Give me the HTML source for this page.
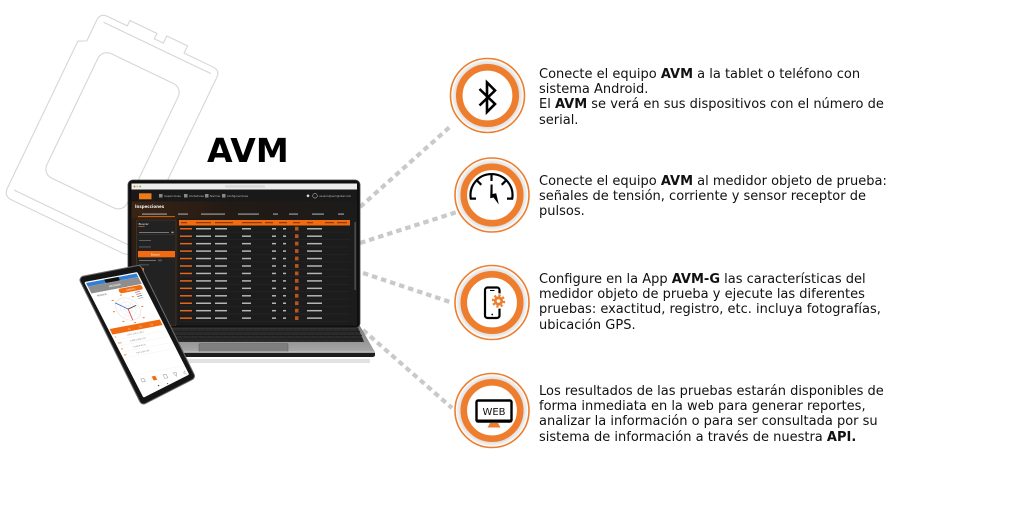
<!DOCTYPE html>
<html>
<head>
<meta charset="utf-8">
<style>
  html,body{margin:0;padding:0;background:#fff;}
  body{width:1024px;height:529px;overflow:hidden;position:relative;}
  svg{position:absolute;left:0;top:0;}
  .p{position:absolute;left:539px;font-family:"DejaVu Sans","Liberation Sans",sans-serif;font-size:13px;line-height:15.4px;color:#111;white-space:nowrap;}
  .p b{font-weight:bold;}
  .avm{position:absolute;left:207px;top:131px;font-family:"DejaVu Sans","Liberation Sans",sans-serif;font-weight:bold;font-size:33px;line-height:40px;color:#000;}
</style>
</head>
<body>
<svg width="1024" height="529" viewBox="0 0 1024 529" xmlns="http://www.w3.org/2000/svg">
  <defs>
    <radialGradient id="halo" cx="0.5" cy="0.5" r="0.5">
      <stop offset="0.80" stop-color="#cfcfcf"/>
      <stop offset="0.92" stop-color="#e6e6e6"/>
      <stop offset="1" stop-color="#f7f7f7"/>
    </radialGradient>
    <linearGradient id="sub" x1="0" y1="0" x2="1" y2="0">
      <stop offset="0" stop-color="#3a2414"/>
      <stop offset="0.45" stop-color="#221a15"/>
      <stop offset="1" stop-color="#1b1b1b"/>
    </linearGradient>
    <linearGradient id="side" x1="0" y1="0" x2="0" y2="1">
      <stop offset="0" stop-color="#2d1e14"/>
      <stop offset="1" stop-color="#1d1d1d"/>
    </linearGradient>
    <linearGradient id="base" x1="0" y1="0" x2="0" y2="1">
      <stop offset="0" stop-color="#7c7c7c"/>
      <stop offset="1" stop-color="#a8a8a8"/>
    </linearGradient>
    <g id="row">
      <rect x="180" y="0" width="12" height="1.5" fill="#e8661c"/>
      <rect x="196" y="0" width="15" height="1.5" fill="#b5b5b5"/>
      <rect x="215" y="0" width="12" height="1.5" fill="#b5b5b5"/>
      <rect x="242" y="0" width="9" height="1.5" fill="#b5b5b5"/>
      <rect x="272" y="0" width="4" height="1.5" fill="#b5b5b5"/>
      <rect x="283" y="0" width="3" height="1.5" fill="#b5b5b5"/>
      <rect x="295" y="-1.2" width="3.5" height="3.8" fill="#b8561a"/>
      <rect x="307" y="0" width="15" height="1.5" fill="#b5b5b5"/>
      <rect x="179" y="3.8" width="171" height="0.5" fill="#2a2a2a"/>
    </g>
    <clipPath id="ps">
      <polygon points="86,283 136.5,273.5 187.5,374 144,396"/>
    </clipPath>
  </defs>

  <!-- background device outline -->
  <g transform="translate(112.5,130.8) rotate(25.6)" fill="none" stroke="#d6d6d6" stroke-width="1.1">
    <path d="M -62,-93 Q -62,-101 -54,-101 L -32,-101 L -32,-107 L -2,-107 L -2,-101 L 8,-101 L 8,-109 L 31,-109 L 31,-101 L 63,-101 Q 71,-101 71,-93 L 71,97 Q 71,106 62,106 L -61,106 Q -70,106 -70,97 L -70,-66 L -62,-70 Z"/>
    <path d="M -55,-94 L 64,-94"/>
    <path d="M -63,96 L 63,96"/>
    <rect x="-44.5" y="-69" width="89" height="138" rx="10"/>
  </g>

  <!-- dashed connectors -->
  <g stroke="#c9c9c9" stroke-width="4.2" stroke-dasharray="5.5 4" fill="none">
    <line x1="360" y1="207" x2="452" y2="125"/>
    <line x1="360" y1="243" x2="457" y2="212"/>
    <line x1="363" y1="273" x2="453" y2="303"/>
    <line x1="363" y1="330" x2="452" y2="408"/>
  </g>

  <!-- laptop base -->
  <rect x="183" y="359" width="187" height="4" fill="#e2e2e2"/>
  <polygon points="163,326 360,326 375,352 150,352" fill="url(#base)"/>
  <polygon points="170,327.5 358,327.5 364,342 167,342" fill="#2b2b2b"/>
  <g stroke="#1a1a1a" stroke-width="0.8">
    <line x1="169" y1="331.5" x2="360" y2="331.5"/>
    <line x1="168" y1="335.5" x2="362" y2="335.5"/>
    <line x1="168" y1="339" x2="363" y2="339"/>
  </g>
  <g stroke="#1a1a1a" stroke-width="0.8" stroke-dasharray="1 7">
    <line x1="172" y1="329.5" x2="358" y2="329.5"/>
    <line x1="170" y1="333.5" x2="360" y2="333.5"/>
    <line x1="174" y1="337.3" x2="361" y2="337.3"/>
    <line x1="170" y1="340.5" x2="362" y2="340.5"/>
  </g>
  <rect x="199" y="343.5" width="89" height="8.3" rx="1.2" fill="#7e7e7e" stroke="#666" stroke-width="0.6"/>
  <rect x="150" y="351.5" width="225" height="1.2" fill="#c8c8c8"/>
  <path d="M 152,352.7 L 375,352.7 L 375,355 Q 375,357 372,357 L 155,357 Z" fill="#1e1e1e"/>

  <!-- laptop lid -->
  <rect x="128" y="180" width="232" height="148" rx="5" fill="#0f0f0f" stroke="#454545" stroke-width="0.8"/>
  <rect x="131.5" y="183.5" width="225.5" height="142" fill="#1c1c1c"/>
  <!-- browser bar -->
  <rect x="131.5" y="183.5" width="225.5" height="6" fill="#ececec"/>
  <circle cx="134.5" cy="186.5" r="0.9" fill="#e24b3b"/>
  <circle cx="137.3" cy="186.5" r="0.9" fill="#e8b82f"/>
  <circle cx="140.1" cy="186.5" r="0.9" fill="#4cb944"/>
  <rect x="225" y="185.3" width="40" height="2.4" rx="1" fill="#d8d8d8"/>
  <!-- app nav -->
  <rect x="131.5" y="189.5" width="225.5" height="12" fill="#191919"/>
  <rect x="139" y="193.3" width="12.5" height="6" fill="#ef7a1a"/>
  <g fill="#bdbdbd" font-family="DejaVu Sans, sans-serif" font-size="2.6">
    <rect x="159" y="194" width="3.5" height="3.5" fill="#888"/>
    <text x="164" y="197">Inspecciones</text>
    <rect x="184" y="194" width="3.5" height="3.5" fill="#888"/>
    <text x="189" y="197">Contadores</text>
    <rect x="205" y="194" width="3.5" height="3.5" fill="#888"/>
    <text x="210" y="197">Normas</text>
    <rect x="222" y="194" width="3.5" height="3.5" fill="#888"/>
    <text x="227" y="197">Configuraciones</text>
    <circle cx="308" cy="195.8" r="1.3" fill="#ddd"/>
    <circle cx="315" cy="195.8" r="2.3" fill="none" stroke="#ddd" stroke-width="0.5"/>
    <text x="319" y="197">usuario@avmglobal.com</text>
  </g>
  <!-- sub header -->
  <rect x="131.5" y="201.5" width="225.5" height="17" fill="url(#sub)"/>
  <text x="135" y="208" font-family="DejaVu Sans, sans-serif" font-size="4" font-weight="bold" fill="#f0f0f0">Inspecciones</text>
  <g fill="#9a9a9a">
    <rect x="142" y="213.5" width="25" height="1.2"/>
    <rect x="178" y="213.5" width="10" height="1.2"/>
    <rect x="201" y="213.5" width="24" height="1.2"/>
    <rect x="238" y="213.5" width="21" height="1.2"/>
    <rect x="273" y="213.5" width="5" height="1.2"/>
    <rect x="289" y="213.5" width="9" height="1.2"/>
    <rect x="312" y="213.5" width="12" height="1.2"/>
    <rect x="338" y="213.5" width="6" height="1.2"/>
  </g>
  <rect x="138" y="216.3" width="37" height="0.8" fill="#ef7a1a"/>
  <!-- sidebar -->
  <rect x="131.5" y="218.5" width="46" height="107" fill="url(#side)"/>
  <rect x="136.5" y="220" width="39.5" height="105.5" rx="1" fill="#222" stroke="#5e3a1e" stroke-width="0.6"/>
  <text x="138.5" y="225.2" font-family="DejaVu Sans, sans-serif" font-size="3" fill="#eee">Buscar</text>
  <rect x="138.5" y="226.4" width="6" height="0.6" fill="#ef7a1a"/>
  <rect x="139" y="232" width="30" height="1" fill="#777"/>
  <rect x="171.5" y="231.7" width="2" height="1.4" fill="#aaa"/>
  <rect x="138.5" y="234.3" width="36" height="0.4" fill="#444"/>
  <rect x="139" y="240" width="12" height="0.9" fill="#666"/>
  <rect x="139" y="246.5" width="12" height="0.9" fill="#666"/>
  <rect x="138" y="251" width="37" height="6.3" fill="#f26b10"/>
  <text x="151" y="255.4" font-family="DejaVu Sans, sans-serif" font-size="2.6" fill="#fff">Buscar</text>
  <rect x="139" y="260" width="17" height="0.9" fill="#777"/>
  <rect x="158" y="259.6" width="4" height="1.6" fill="#555"/>
  <rect x="139" y="264.5" width="10" height="0.8" fill="#666"/>
  <rect x="139" y="268" width="5" height="5" fill="#f26b10"/>
  <!-- table -->
  <rect x="179" y="220" width="171" height="5.5" fill="#f26b10"/>
  <g fill="#6a2a05">
    <rect x="181" y="222.3" width="6" height="0.9"/>
    <rect x="196" y="222.3" width="15" height="0.9"/>
    <rect x="215" y="222.3" width="18" height="0.9"/>
    <rect x="242" y="222.3" width="20" height="0.9"/>
    <rect x="265" y="222.3" width="8" height="0.9"/>
    <rect x="279" y="222.3" width="8" height="0.9"/>
    <rect x="293" y="222.3" width="7" height="0.9"/>
    <rect x="307" y="222.3" width="6" height="0.9"/>
    <rect x="325" y="222.3" width="9" height="0.9"/>
    <rect x="337" y="222.3" width="10" height="0.9"/>
  </g>
  <use href="#row" y="228"/>
  <use href="#row" y="235.45"/>
  <use href="#row" y="242.9"/>
  <use href="#row" y="250.35"/>
  <use href="#row" y="257.8"/>
  <use href="#row" y="265.25"/>
  <use href="#row" y="272.7"/>
  <use href="#row" y="280.15"/>
  <use href="#row" y="287.6"/>
  <use href="#row" y="295.05"/>
  <use href="#row" y="302.5"/>
  <use href="#row" y="309.95"/>
  <use href="#row" y="317.4"/>
  <rect x="354.5" y="222" width="1.3" height="68" fill="#555"/>

  <!-- phone -->
  <polygon points="84,280 138,269.5 190.5,376 143.5,400" fill="#151515" stroke="#6e6e6e" stroke-width="9" stroke-linejoin="round"/>
  <polygon points="84,280 138,269.5 190.5,376 143.5,400" fill="#151515" stroke="#151515" stroke-width="7" stroke-linejoin="round"/>
  <polygon points="86,283 136.5,273.5 187.5,374 144,396" fill="#fff" stroke="#fff" stroke-width="2.5" stroke-linejoin="round"/>
  <g clip-path="url(#ps)">
    <g transform="matrix(1.01,-0.19,0.513,1,86,283)" font-family="DejaVu Sans, sans-serif">
      <rect x="-5" y="-3" width="60" height="6.5" fill="#2f7fd6"/>
      <rect x="18" y="-3" width="14" height="6.5" rx="1.5" fill="#111"/>
      <rect x="-5" y="3.5" width="60" height="7" fill="#8e8e8e"/>
      <text x="25" y="8" font-size="2.4" fill="#fff" text-anchor="middle">MEDIDOR</text>
      <rect x="-5" y="10.5" width="60" height="5.5" fill="#fff"/>
      <text x="4" y="14.3" font-size="2" fill="#555">MEDIDOR</text>
      <rect x="26" y="11" width="23" height="4.5" rx="2" fill="#f26b10"/>
      <text x="37.5" y="14.2" font-size="2" fill="#fff" text-anchor="middle">GRÁFICO</text>
      <!-- chart -->
      <circle cx="26" cy="31" r="11" fill="none" stroke="#ddd" stroke-width="0.5"/>
      <circle cx="26" cy="31" r="7" fill="none" stroke="#e4e4e4" stroke-width="0.4"/>
      <circle cx="26" cy="31" r="3.5" fill="none" stroke="#e4e4e4" stroke-width="0.4"/>
      <g stroke="#e2e2e2" stroke-width="0.3">
        <line x1="15" y1="31" x2="37" y2="31"/>
        <line x1="26" y1="20" x2="26" y2="42"/>
        <line x1="18" y1="23" x2="34" y2="39"/>
        <line x1="34" y1="23" x2="18" y2="39"/>
      </g>
      <line x1="26" y1="31" x2="17" y2="23" stroke="#2b4fc9" stroke-width="0.7"/>
      <line x1="26" y1="31" x2="25" y2="42" stroke="#d42a2a" stroke-width="0.7"/>
      <line x1="26" y1="31" x2="35" y2="29" stroke="#333" stroke-width="0.7"/>
      <g fill="#f08a3a">
        <rect x="25" y="16.5" width="2" height="1"/>
        <rect x="15" y="20" width="2" height="1"/>
        <rect x="35" y="20" width="2" height="1"/>
        <rect x="11" y="30.5" width="2" height="1"/>
        <rect x="39" y="30.5" width="2" height="1"/>
        <rect x="15" y="41" width="2" height="1"/>
        <rect x="35" y="41" width="2" height="1"/>
        <rect x="25" y="44" width="2" height="1"/>
      </g>
      <g stroke-width="0.5">
        <line x1="40" y1="17" x2="45" y2="17" stroke="#2b4fc9"/>
        <line x1="40" y1="19" x2="45" y2="19" stroke="#d42a2a"/>
        <line x1="40" y1="21" x2="45" y2="21" stroke="#333"/>
        <line x1="40" y1="23" x2="45" y2="23" stroke="#888"/>
      </g>
      <!-- orange band -->
      <rect x="-5" y="46" width="60" height="5.5" fill="#f26b10"/>
      <text x="17" y="49.8" font-size="1.9" fill="#fff">L1</text>
      <text x="28" y="49.8" font-size="1.9" fill="#fff">L2</text>
      <text x="39" y="49.8" font-size="1.9" fill="#fff">L3</text>
      <g font-size="1.8">
        <text x="1" y="55" fill="#f26b10" font-weight="bold">V</text>
        <text x="13" y="55" fill="#777">130.2  130.1  130.3</text>
        <text x="1" y="61" fill="#f26b10" font-weight="bold">I(A)</text>
        <text x="13" y="61" fill="#777">5.000  5.000  5.01</text>
        <text x="1" y="67" fill="#f26b10" font-weight="bold">W</text>
        <text x="13" y="67" fill="#777">0  240.9  40.75</text>
        <text x="1" y="73" fill="#f26b10" font-weight="bold">FP</text>
        <text x="13" y="73" fill="#777">4.01  2.80  2.97</text>
      </g>
      <g stroke="#eee" stroke-width="0.3">
        <line x1="0" y1="57" x2="50" y2="57"/>
        <line x1="0" y1="63" x2="50" y2="63"/>
        <line x1="0" y1="69" x2="50" y2="69"/>
        <line x1="0" y1="75" x2="50" y2="75"/>
      </g>
      <rect x="-5" y="92" width="60" height="0.3" fill="#eee"/>
      <g fill="none" stroke="#999" stroke-width="0.5">
        <rect x="5" y="97" width="3" height="3"/>
        <rect x="27" y="97" width="3" height="3.5"/>
        <path d="M37,97 L40,97 L38.5,100.5 Z"/>
        <path d="M49,97 L46.5,98.8 L49,100.6"/>
      </g>
      <rect x="16" y="96.5" width="3.5" height="4" fill="#f26b10"/>
      <g fill="#555">
        <circle cx="18" cy="106" r="0.7"/>
        <circle cx="27" cy="106" r="0.7"/>
        <circle cx="36" cy="106" r="0.7"/>
      </g>
    </g>
  </g>

  <!-- icon circles -->
  <g>
    <circle cx="487.5" cy="95.5" r="37" fill="#fff" stroke="#ee7d2e" stroke-width="1.6"/>
    <circle cx="487.5" cy="95.5" r="35.5" fill="url(#halo)"/>
    <circle cx="487.5" cy="95.5" r="28.2" fill="#fff" stroke="#ee7d2e" stroke-width="6.6"/>

    <circle cx="492" cy="195" r="37" fill="#fff" stroke="#ee7d2e" stroke-width="1.6"/>
    <circle cx="492" cy="195" r="35.5" fill="url(#halo)"/>
    <circle cx="492" cy="195" r="28.2" fill="#fff" stroke="#ee7d2e" stroke-width="6.6"/>

    <circle cx="492" cy="302.5" r="37" fill="#fff" stroke="#ee7d2e" stroke-width="1.6"/>
    <circle cx="492" cy="302.5" r="35.5" fill="url(#halo)"/>
    <circle cx="492" cy="302.5" r="28.2" fill="#fff" stroke="#ee7d2e" stroke-width="6.6"/>

    <circle cx="492" cy="410.5" r="37" fill="#fff" stroke="#ee7d2e" stroke-width="1.6"/>
    <circle cx="492" cy="410.5" r="35.5" fill="url(#halo)"/>
    <circle cx="492" cy="410.5" r="28.2" fill="#fff" stroke="#ee7d2e" stroke-width="6.6"/>
  </g>

  <!-- bluetooth -->
  <path d="M 479.5,89 L 495,104 L 487,112 L 487,82.5 L 495,90.5 L 479.5,105.5" fill="none" stroke="#000" stroke-width="2.6" stroke-linejoin="miter"/>

  <!-- gauge -->
  <g fill="none" stroke="#000" stroke-width="2.2">
    <path d="M 476,198.6 L 470.8,198.6 A 21 21 0 1 1 512.2,198.6 L 507,198.6"/>
    <line x1="491.5" y1="174" x2="491.5" y2="181"/>
    <line x1="476.7" y1="180.2" x2="481.3" y2="184.8"/>
    <line x1="506.3" y1="180.2" x2="501.7" y2="184.8"/>
  </g>
  <polygon points="490.6,184.5 492.6,184.5 492.6,194 496.2,193.2 498.8,204.5 493.5,197.5 490.2,198.2" fill="#000"/>

  <!-- phone + gear -->
  <rect x="485" y="287.5" width="14.5" height="30.5" rx="2.5" fill="#fff" stroke="#000" stroke-width="2.2"/>
  <line x1="490" y1="290.5" x2="494.5" y2="290.5" stroke="#000" stroke-width="1"/>
  <circle cx="492.2" cy="314.5" r="0.9" fill="#000"/>
  <circle cx="498.5" cy="301" r="7.8" fill="#fff"/>
  <circle cx="498.5" cy="301" r="5.4" fill="none" stroke="#ee7d2e" stroke-width="2.6" stroke-dasharray="2.1 2.1"/>
  <circle cx="498.5" cy="301" r="4.6" fill="#ee7d2e"/>
  <circle cx="498.5" cy="301" r="1.8" fill="#fff"/>

  <!-- WEB monitor -->
  <rect x="476.5" y="400.5" width="35" height="21" rx="1.5" fill="#fff" stroke="#000" stroke-width="2.4"/>
  <rect x="476.5" y="419.5" width="35" height="3" fill="#000"/>
  <text x="494" y="415.2" font-family="DejaVu Sans, sans-serif" font-size="10" fill="#111" text-anchor="middle">WEB</text>
  <polygon points="490,423 498,423 500.5,427.5 487.5,427.5" fill="#ee7d2e"/>
</svg>

<div class="avm">AVM</div>

<div class="p" style="top:66.5px;">Conecte el equipo <b>AVM</b> a la tablet o teléfono con<br>sistema Android.<br>El <b>AVM</b> se verá en sus dispositivos con el número de<br>serial.</div>

<div class="p" style="top:173.5px;">Conecte el equipo <b>AVM</b> al medidor objeto de prueba:<br>señales de tensión, corriente y sensor receptor de<br>pulsos.</div>

<div class="p" style="top:271.5px;">Configure en la App <b>AVM-G</b> las características del<br>medidor objeto de prueba y ejecute las diferentes<br>pruebas: exactitud, registro, etc. incluya fotografías,<br>ubicación GPS.</div>

<div class="p" style="top:383.5px;">Los resultados de las pruebas estarán disponibles de<br>forma inmediata en la web para generar reportes,<br>analizar la información o para ser consultada por su<br>sistema de información a través de nuestra <b>API.</b></div>
</body>
</html>
